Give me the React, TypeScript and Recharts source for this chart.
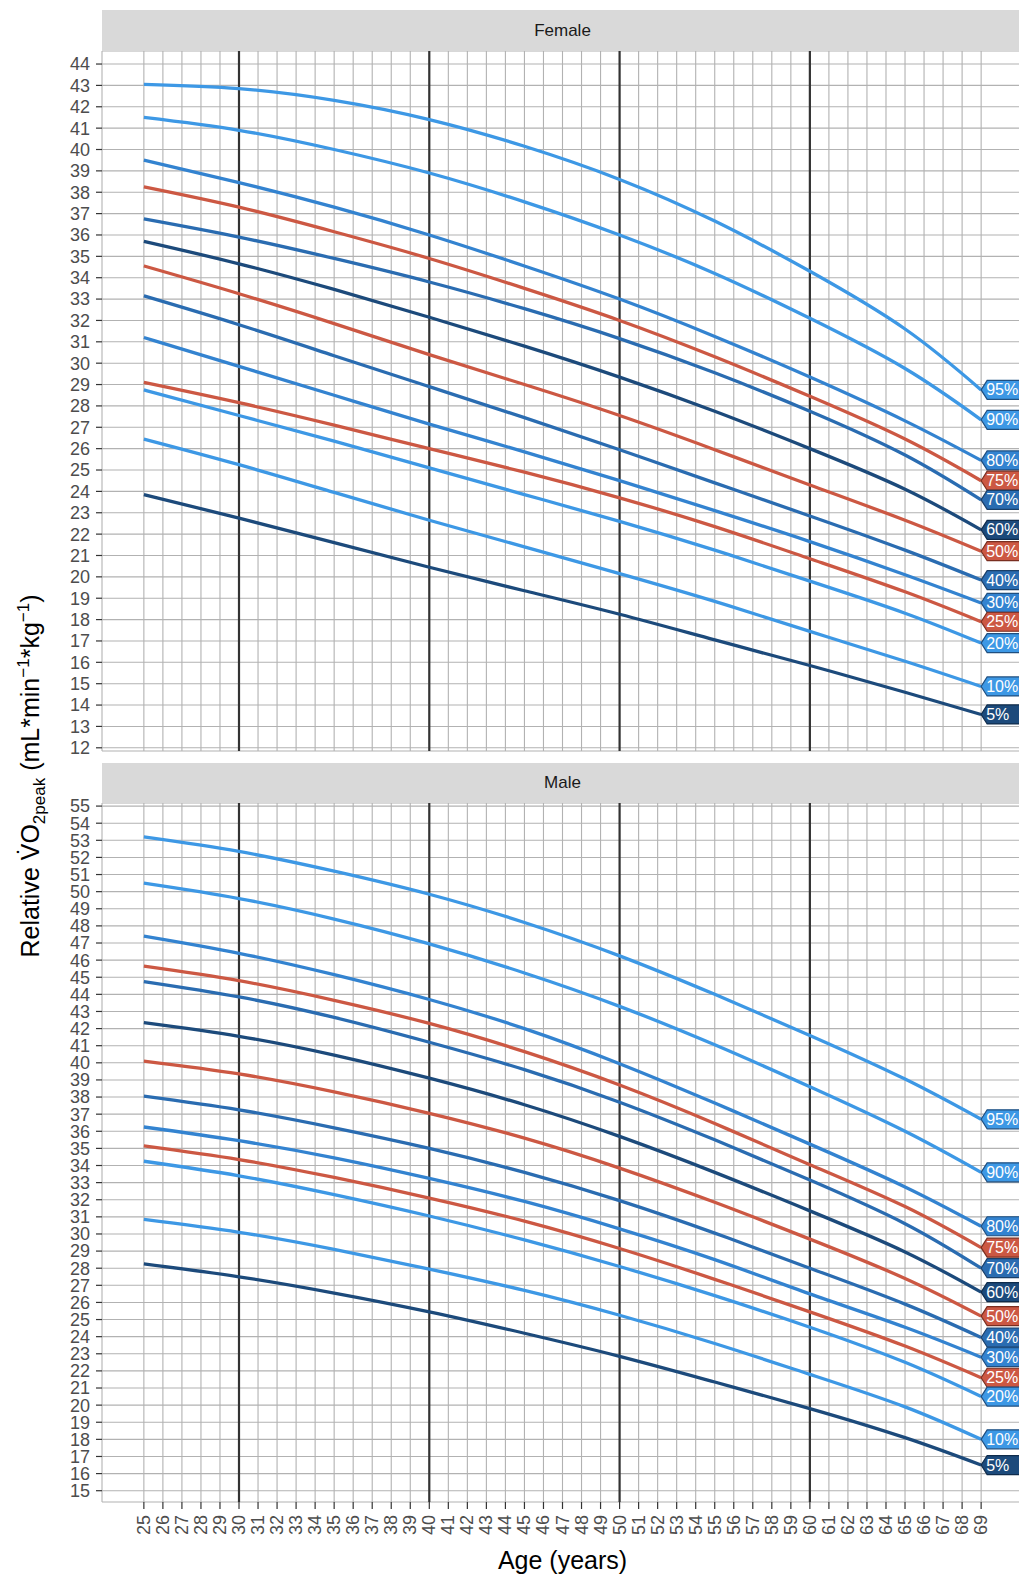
import React from 'react';
import { LineChart, Line, XAxis, YAxis, CartesianGrid, ReferenceLine, ReferenceDot } from 'recharts';

const AGES = [25, 30, 35, 40, 45, 50, 55, 60, 65, 69];
const AGE_TICKS = [25, 26, 27, 28, 29, 30, 31, 32, 33, 34, 35, 36, 37, 38, 39, 40, 41, 42, 43, 44, 45, 46, 47, 48, 49, 50, 51, 52, 53, 54, 55, 56, 57, 58, 59, 60, 61, 62, 63, 64, 65, 66, 67, 68, 69];
const FEMALE_Y_TICKS = [12, 13, 14, 15, 16, 17, 18, 19, 20, 21, 22, 23, 24, 25, 26, 27, 28, 29, 30, 31, 32, 33, 34, 35, 36, 37, 38, 39, 40, 41, 42, 43, 44];
const MALE_Y_TICKS = [15, 16, 17, 18, 19, 20, 21, 22, 23, 24, 25, 26, 27, 28, 29, 30, 31, 32, 33, 34, 35, 36, 37, 38, 39, 40, 41, 42, 43, 44, 45, 46, 47, 48, 49, 50, 51, 52, 53, 54, 55];
const DECADES = [30, 40, 50, 60];

const PERCENTILE_KEYS = ['p95', 'p90', 'p80', 'p75', 'p70', 'p60', 'p50', 'p40', 'p30', 'p25', 'p20', 'p10', 'p5'];
const PERCENTILE_LABELS = ['95%', '90%', '80%', '75%', '70%', '60%', '50%', '40%', '30%', '25%', '20%', '10%', '5%'];

const LIGHT = '#3d98e5';
const MIDLIGHT = '#3383d0';
const MID = '#2a6cb1';
const NAVY = '#1c4a7b';
const RED = '#cc5843';
const LINE_COLORS = [LIGHT, LIGHT, MIDLIGHT, RED, MID, NAVY, RED, MID, MIDLIGHT, RED, LIGHT, LIGHT, NAVY];
const TAG_BORDERS = ['#1f4f80', '#1f4f80', '#1f4f80', '#7a2e20', '#1a3f68', '#0f2c4c', '#7a2e20', '#1a3f68', '#1f4f80', '#7a2e20', '#1f4f80', '#1f4f80', '#0f2c4c'];

// Female percentiles (values at AGES)
const F_P95 = [43.05, 42.85, 42.3, 41.4, 40.15, 38.6, 36.65, 34.3, 31.6, 28.75];
const F_P90 = [41.5, 40.9, 40.0, 38.9, 37.55, 36.0, 34.2, 32.1, 29.75, 27.35];
const F_P80 = [39.5, 38.45, 37.3, 36.0, 34.55, 33.0, 31.25, 29.35, 27.3, 25.45];
const F_P75 = [38.25, 37.3, 36.15, 34.9, 33.5, 32.0, 30.3, 28.45, 26.45, 24.5];
const F_P70 = [36.75, 35.9, 34.9, 33.8, 32.55, 31.15, 29.55, 27.75, 25.7, 23.6];
const F_P60 = [35.7, 34.65, 33.45, 32.15, 30.8, 29.35, 27.75, 26.0, 24.1, 22.2];
const F_P50 = [34.55, 33.25, 31.85, 30.4, 29.0, 27.55, 25.95, 24.3, 22.65, 21.2];
const F_P40 = [33.15, 31.8, 30.35, 28.9, 27.45, 25.95, 24.4, 22.85, 21.25, 19.85];
const F_P30 = [31.2, 29.85, 28.5, 27.15, 25.85, 24.5, 23.1, 21.65, 20.1, 18.78];
const F_P25 = [29.1, 28.15, 27.1, 26.0, 24.9, 23.7, 22.35, 20.85, 19.3, 17.9];
const F_P20 = [28.75, 27.55, 26.35, 25.1, 23.85, 22.6, 21.25, 19.8, 18.3, 16.9];
const F_P10 = [26.45, 25.25, 23.95, 22.65, 21.4, 20.15, 18.85, 17.45, 16.05, 14.87];
const F_P5 = [23.85, 22.75, 21.6, 20.45, 19.35, 18.25, 17.05, 15.85, 14.6, 13.56];

// Male percentiles (values at AGES)
const M_P95 = [53.2, 52.35, 51.2, 49.85, 48.2, 46.25, 44.0, 41.6, 39.05, 36.7];
const M_P90 = [50.5, 49.6, 48.4, 46.95, 45.25, 43.3, 41.05, 38.6, 36.0, 33.6];
const M_P80 = [47.4, 46.4, 45.15, 43.7, 42.0, 39.95, 37.65, 35.25, 32.75, 30.45];
const M_P75 = [45.65, 44.8, 43.65, 42.3, 40.65, 38.7, 36.45, 34.05, 31.6, 29.2];
const M_P70 = [44.75, 43.85, 42.65, 41.2, 39.6, 37.7, 35.5, 33.15, 30.6, 28.0];
const M_P60 = [42.35, 41.55, 40.45, 39.1, 37.55, 35.7, 33.6, 31.35, 28.95, 26.6];
const M_P50 = [40.1, 39.35, 38.3, 37.05, 35.6, 33.85, 31.85, 29.7, 27.4, 25.2];
const M_P40 = [38.05, 37.25, 36.2, 35.0, 33.6, 31.95, 30.05, 28.0, 25.9, 23.95];
const M_P30 = [36.25, 35.45, 34.45, 33.25, 31.9, 30.3, 28.5, 26.5, 24.55, 22.8];
const M_P25 = [35.15, 34.35, 33.3, 32.1, 30.75, 29.15, 27.35, 25.45, 23.45, 21.6];
const M_P20 = [34.25, 33.4, 32.3, 31.05, 29.65, 28.1, 26.4, 24.55, 22.5, 20.5];
const M_P10 = [30.85, 30.1, 29.1, 27.95, 26.7, 25.25, 23.6, 21.8, 19.9, 18.0];
const M_P5 = [28.25, 27.5, 26.55, 25.45, 24.2, 22.85, 21.35, 19.8, 18.1, 16.5];

const FEMALE_SERIES = [F_P95, F_P90, F_P80, F_P75, F_P70, F_P60, F_P50, F_P40, F_P30, F_P25, F_P20, F_P10, F_P5];
const MALE_SERIES = [M_P95, M_P90, M_P80, M_P75, M_P70, M_P60, M_P50, M_P40, M_P30, M_P25, M_P20, M_P10, M_P5];

const FONT = '"Liberation Sans", Arial, Helvetica, sans-serif';

function buildRows(series: number[][]) {
  return AGES.map((age, i) => {
    const row: Record<string, number> = { age };
    PERCENTILE_KEYS.forEach((k, j) => {
      row[k] = series[j][i];
    });
    return row;
  });
}

const FEMALE_ROWS = buildRows(FEMALE_SERIES);
const MALE_ROWS = buildRows(MALE_SERIES);

const XTick = (props: any) => {
  const { x, y, payload } = props;
  return (
    <text
      x={x}
      y={y}
      transform={`rotate(-90, ${x}, ${y})`}
      textAnchor="end"
      dominantBaseline="central"
      fill="#4d4d4d"
      fontSize={18}
      fontFamily={FONT}
    >
      {payload.value}
    </text>
  );
};

const EmptyTick = () => <g />;

const Tag = (props: any) => {
  const { cx, cy, fill, border, text } = props;
  if (cx == null || cy == null) return null;
  const h = 9.5;
  const w = 60;
  const pts = `${cx},${cy} ${cx + 6},${cy - h} ${cx + w},${cy - h} ${cx + w},${cy + h} ${cx + 6},${cy + h}`;
  return (
    <g>
      <polygon points={pts} fill={fill} stroke={border} strokeWidth={1.2} />
      <text x={cx + 5} y={cy} dominantBaseline="central" fill="#ffffff" fontSize={16} fontFamily={FONT}>
        {text}
      </text>
    </g>
  );
};

function Panel(props: { rows: any[]; series: number[][]; yDomain: number[]; yTicks: number[]; showX: boolean; height: number; mTop: number; mBottom: number }) {
  const { rows, series, yDomain, yTicks, showX, height, mTop, mBottom } = props;
  const last = AGES.length - 1;
  return (
    <LineChart width={1030} height={height} data={rows} margin={{ top: mTop, right: 7, bottom: mBottom, left: 0 }}>
      <CartesianGrid stroke="#b2b2b2" strokeWidth={1.1} />
      <XAxis
        type="number"
        dataKey="age"
        domain={[22.8, 71.2]}
        ticks={AGE_TICKS}
        interval={0}
        allowDataOverflow
        height={showX ? 50 : 0}
        tick={showX ? XTick : EmptyTick}
        tickLine={showX ? { stroke: '#333333', strokeWidth: 1.2 } : false}
        axisLine={false}
        tickSize={7}
        tickMargin={6}
      />
      <YAxis
        type="number"
        domain={yDomain}
        ticks={yTicks}
        interval={0}
        allowDataOverflow
        width={102}
        axisLine={false}
        tickLine={{ stroke: '#333333', strokeWidth: 1.2 }}
        tickSize={6}
        tickMargin={6}
        tick={{ fill: '#4d4d4d', fontSize: 18, fontFamily: FONT }}
      />
      {DECADES.map((d) => (
        <ReferenceLine key={`d${d}`} x={d} stroke="#333333" strokeWidth={2.2} />
      ))}
      {PERCENTILE_KEYS.map((k, j) => (
        <Line
          key={k}
          dataKey={k}
          type="natural"
          stroke={LINE_COLORS[j]}
          strokeWidth={3.3}
          dot={false}
          activeDot={false}
          isAnimationActive={false}
        />
      ))}
      {PERCENTILE_KEYS.map((k, j) => (
        <ReferenceDot
          key={`tag${k}`}
          x={AGES[last]}
          y={series[j][last]}
          ifOverflow="visible"
          shape={(p: any) => <Tag cx={p.cx} cy={p.cy} fill={LINE_COLORS[j]} border={TAG_BORDERS[j]} text={PERCENTILE_LABELS[j]} />}
        />
      ))}
    </LineChart>
  );
}

const stripStyle: React.CSSProperties = {
  position: 'absolute',
  left: 102,
  width: 921,
  background: '#d9d9d9',
  color: '#1a1a1a',
  fontFamily: FONT,
  fontSize: 17,
  display: 'flex',
  alignItems: 'center',
  justifyContent: 'center',
};

export default function App() {
  return (
    <div style={{ position: 'absolute', left: 0, top: 0, width: 1019, height: 1576, overflow: 'hidden', background: '#ffffff' }}>
      <div style={{ position: 'absolute', left: 0, top: 39 }}>
        <Panel rows={FEMALE_ROWS} series={FEMALE_SERIES} yDomain={[11.85, 44.61]} yTicks={FEMALE_Y_TICKS} showX={false} height={724} mTop={12} mBottom={12} />
      </div>
      <div style={{ position: 'absolute', left: 0, top: 791 }}>
        <Panel rows={MALE_ROWS} series={MALE_SERIES} yDomain={[14.34, 55.18]} yTicks={MALE_Y_TICKS} showX={true} height={761} mTop={12} mBottom={0} />
      </div>
      <div style={{ ...stripStyle, top: 10, height: 41 }}>Female</div>
      <div style={{ ...stripStyle, top: 763, height: 40 }}>Male</div>
      <div
        style={{
          position: 'absolute',
          left: 102,
          width: 921,
          top: 1545,
          textAlign: 'center',
          fontFamily: FONT,
          fontSize: 25,
          lineHeight: '30px',
          color: '#000000',
        }}
      >
        Age (years)
      </div>
      <svg style={{ position: 'absolute', left: 0, top: 0 }} width={60} height={1576}>
        <text
          transform="translate(39, 776) rotate(-90)"
          textAnchor="middle"
          fontFamily={FONT}
          fontSize={25}
          fill="#000000"
        >
          Relative V{'\u0307'}O
          <tspan fontSize={17} dy={6}>2peak</tspan>
          <tspan dy={-6}> (mL*min</tspan>
          <tspan fontSize={17} dy={-10}>−1</tspan>
          <tspan dy={10}>*kg</tspan>
          <tspan fontSize={17} dy={-10}>−1</tspan>
          <tspan dy={10}>)</tspan>
        </text>
      </svg>
    </div>
  );
}
